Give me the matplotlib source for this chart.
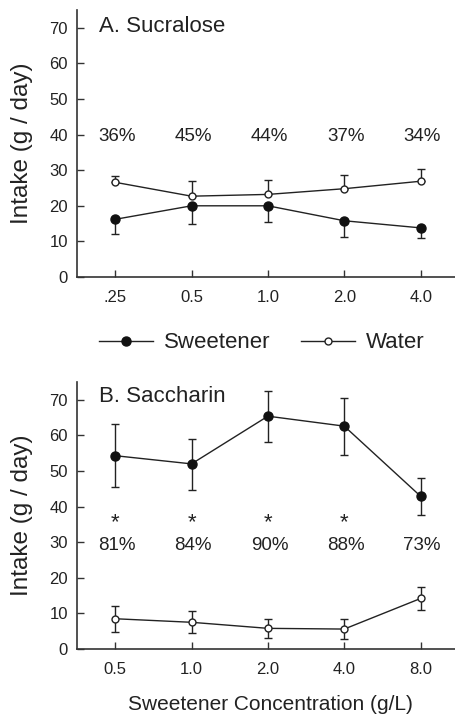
import matplotlib
matplotlib.use("Agg")
import matplotlib.pyplot as plt
from matplotlib.lines import Line2D

plt.rcParams['font.family'] = ['Liberation Sans', 'DejaVu Sans']

# Panel A: Sucralose
a_labels = ['.25', '0.5', '1.0', '2.0', '4.0']
a_sweet = [16.2, 20.0, 20.0, 15.8, 13.8]
a_sweet_lo = [12.0, 15.0, 15.5, 11.3, 10.9]
a_water = [26.6, 22.7, 23.2, 24.8, 26.9]
a_water_hi = [28.4, 27.1, 27.2, 28.7, 30.2]
a_pct = ['36%', '45%', '44%', '37%', '34%']

# Panel B: Saccharin
b_labels = ['0.5', '1.0', '2.0', '4.0', '8.0']
b_sweet = [54.3, 52.0, 65.4, 62.6, 42.9]
b_sweet_hi = [63.1, 59.1, 72.6, 70.4, 48.0]
b_sweet_lo = [45.4, 44.8, 58.1, 54.6, 37.7]
b_water = [8.5, 7.5, 5.8, 5.6, 14.2]
b_water_hi = [12.1, 10.6, 8.4, 8.4, 17.5]
b_water_lo = [4.8, 4.4, 3.2, 2.7, 11.0]
b_pct = ['81%', '84%', '90%', '88%', '73%']
b_sig = ['*', '*', '*', '*', '']

W, H = 455, 719
fig = plt.figure(figsize=(W / 100, H / 100), dpi=100)

def px_axes(left, top, right, bottom):
    return fig.add_axes([left / W, 1 - bottom / H, (right - left) / W, (bottom - top) / H])

axA = px_axes(77, 10, 455, 277)
axB = px_axes(77, 382, 455, 649)

line_kw = dict(color='#222222', lw=1.0)
filled = dict(marker='o', markersize=6.5, markerfacecolor='#111111', markeredgecolor='#111111')
hollow = dict(marker='o', markersize=5, markerfacecolor='white', markeredgecolor='#222222', markeredgewidth=1.0)
err_kw = dict(ecolor='#222222', elinewidth=1.0, capsize=3, capthick=1.0, linestyle='none', zorder=1)

def style(ax, labels):
    x = list(range(len(labels)))
    ax.set_xlim(-0.5, 4.45)
    ax.set_ylim(0, 75)
    ax.set_yticks([0, 10, 20, 30, 40, 50, 60, 70])
    ax.set_xticks(x)
    ax.set_xticklabels(labels)
    for s in ['top', 'right']:
        ax.spines[s].set_visible(False)
    for s in ['left', 'bottom']:
        ax.spines[s].set_linewidth(1.2)
        ax.spines[s].set_color('#333333')
    ax.tick_params(direction='in', length=5, width=1.0, color='#333333',
                   labelsize=12, labelcolor='#222222')
    ax.tick_params(axis='x', pad=9.5)
    ax.tick_params(axis='y', pad=6.5)
    ax.set_ylabel('Intake (g / day)', fontsize=17.5, color='#222222')
    ax.yaxis.set_label_coords(-44 / 378, 0.5)

# Panel A
xa = list(range(len(a_labels)))
style(axA, a_labels)
axA.errorbar(xa, a_sweet, yerr=[[s - l for s, l in zip(a_sweet, a_sweet_lo)], [0] * 5], **err_kw)
axA.errorbar(xa, a_water, yerr=[[0] * 5, [h - w for h, w in zip(a_water_hi, a_water)]], **err_kw)
axA.plot(xa, a_sweet, **line_kw, **filled, zorder=3)
axA.plot(xa, a_water, **line_kw, **hollow, zorder=3)
for xi, t in zip(xa, a_pct):
    axA.text(xi + 0.02, 39.5, t, ha='center', va='center', fontsize=13.5, color='#222222')
axA.text(-0.21, 70.5, 'A. Sucralose', ha='left', va='center', fontsize=16, color='#222222')

# Panel B
xb = list(range(len(b_labels)))
style(axB, b_labels)
axB.errorbar(xb, b_sweet, yerr=[[s - l for s, l in zip(b_sweet, b_sweet_lo)],
                                [h - s for h, s in zip(b_sweet_hi, b_sweet)]], **err_kw)
axB.errorbar(xb, b_water, yerr=[[w - l for w, l in zip(b_water, b_water_lo)],
                                [h - w for h, w in zip(b_water_hi, b_water)]], **err_kw)
axB.plot(xb, b_sweet, **line_kw, **filled, zorder=3)
axB.plot(xb, b_water, **line_kw, **hollow, zorder=3)
for xi, t, s in zip(xb, b_pct, b_sig):
    axB.text(xi + 0.02, 29.0, t, ha='center', va='center', fontsize=13.5, color='#222222')
    if s:
        axB.text(xi, 35.5, s, ha='center', va='center', fontsize=16, color='#222222')
axB.text(-0.21, 71.0, 'B. Saccharin', ha='left', va='center', fontsize=16, color='#222222')
fig.text(270 / W, 1 - 705 / H, 'Sweetener Concentration (g/L)', ha='center', va='center',
         fontsize=15, color='#222222')

# Legend
handles = [Line2D([], [], **line_kw, **filled), Line2D([], [], **line_kw, **hollow)]
fig.legend(handles, ['Sweetener', 'Water'], loc='center', bbox_to_anchor=(262 / W, 1 - 343 / H),
           ncol=2, frameon=False, fontsize=16, handlelength=2.4, handletextpad=0.5,
           columnspacing=1.4, labelcolor='#222222')

fig.savefig('out.png', dpi=100)
